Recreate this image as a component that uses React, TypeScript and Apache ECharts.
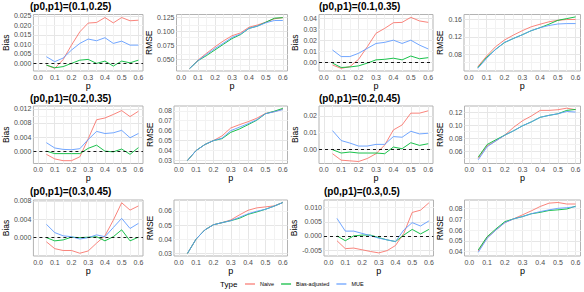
import React, { useEffect, useRef } from "react";
import * as echarts from "echarts";

const FONT = "'Liberation Sans', Arial, Helvetica, sans-serif";

// x values (p)
const P = [0.05, 0.1, 0.15, 0.2, 0.25, 0.3, 0.35, 0.4, 0.45, 0.5, 0.55, 0.6];
const X_TICKS = [0.0, 0.1, 0.2, 0.3, 0.4, 0.5, 0.6];
const X_MINOR = [0.05, 0.15, 0.25, 0.35, 0.45, 0.55];

const SERIES_NAMES = ["Naive", "Bias-adjusted", "MUE"];
const COLORS = ["#F8766D", "#00BA38", "#619CFF"];

// (p0,p1)=(0.1,0.25)
const biasNaive1 = [-0.0009, -0.0026, 0.002, 0.0096, 0.0166, 0.0212, 0.0215, 0.0241, 0.0213, 0.0241, 0.0224, 0.0227];
const biasAdj1 = [-0.0009, -0.0023, -0.0017, 0.0, 0.0017, 0.0021, 0.0, 0.0012, -0.0014, 0.0012, 0.0003, 0.0017];
const biasMue1 = [0.0035, 0.0009, 0.0028, 0.007, 0.0105, 0.0128, 0.0119, 0.0135, 0.0105, 0.0117, 0.0096, 0.0096];
const rmseNaive1 = [0.034, 0.049, 0.061, 0.0725, 0.083, 0.092, 0.097, 0.107, 0.111, 0.116, 0.122, 0.124];
const rmseAdj1 = [0.034, 0.048, 0.057, 0.067, 0.077, 0.087, 0.094, 0.105, 0.109, 0.116, 0.123, 0.124];
const rmseMue1 = [0.034, 0.048, 0.059, 0.0695, 0.079, 0.089, 0.095, 0.105, 0.109, 0.115, 0.119, 0.119];

// (p0,p1)=(0.1,0.35)
const biasNaive2 = [-0.0027, -0.0058, -0.0042, 0.0025, 0.014, 0.0263, 0.0308, 0.036, 0.0363, 0.0409, 0.0376, 0.0363];
const biasAdj2 = [-0.001, -0.005, -0.0045, -0.0035, -0.001, 0.002, 0.0025, 0.0035, 0.002, 0.0055, 0.003, 0.004];
const biasMue2 = [0.011, 0.005, 0.005, 0.008, 0.0125, 0.017, 0.018, 0.02, 0.017, 0.02, 0.0155, 0.012];
const rmseNaive2 = [0.0508, 0.0755, 0.097, 0.1125, 0.1238, 0.134, 0.143, 0.149, 0.1546, 0.158, 0.16, 0.16];
const rmseAdj2 = [0.0485, 0.0723, 0.0908, 0.1065, 0.116, 0.1246, 0.134, 0.141, 0.149, 0.158, 0.162, 0.166];
const rmseMue2 = [0.047, 0.07, 0.0908, 0.107, 0.116, 0.1246, 0.134, 0.141, 0.146, 0.1495, 0.1505, 0.1505];

// (p0,p1)=(0.2,0.35)
const biasNaive3 = [-0.0009, -0.0022, -0.0027, -0.0027, -0.0016, 0.0035, 0.0089, 0.0094, 0.0104, 0.0115, 0.0098, 0.0113];
const biasAdj3 = [0.0, -0.0007, -0.0007, -0.0007, -0.0007, 0.0008, 0.0017, 0.0, -0.0002, 0.0006, -0.0009, 0.001];
const biasMue3 = [0.0024, 0.0009, 0.0005, 0.0004, 0.0007, 0.0033, 0.0056, 0.005, 0.0052, 0.0059, 0.0038, 0.005];
const rmseNaive3 = [0.03, 0.04, 0.046, 0.05, 0.0548, 0.0627, 0.066, 0.069, 0.0725, 0.0773, 0.079, 0.0817];
const rmseAdj3 = [0.03, 0.04, 0.046, 0.05, 0.052, 0.0583, 0.0617, 0.066, 0.0705, 0.077, 0.0795, 0.0824];
const rmseMue3 = [0.03, 0.04, 0.046, 0.05, 0.0525, 0.06, 0.0635, 0.067, 0.071, 0.077, 0.079, 0.0812];

// (p0,p1)=(0.2,0.45)
const biasNaive4 = [-0.0028, -0.0067, -0.0071, -0.0075, -0.0057, -0.0028, 0.0024, 0.0115, 0.0145, 0.0216, 0.0216, 0.023];
const biasAdj4 = [-0.0004, -0.0024, -0.0018, -0.0024, -0.0024, -0.0024, -0.0028, 0.0012, 0.0002, 0.0038, 0.0022, 0.0032];
const biasMue4 = [0.0111, 0.0051, 0.0036, 0.0018, 0.0018, 0.0028, 0.0028, 0.0075, 0.0071, 0.0107, 0.0091, 0.0095];
const rmseNaive4 = [0.0493, 0.0683, 0.076, 0.0847, 0.0967, 0.1067, 0.114, 0.1226, 0.1226, 0.1236, 0.126, 0.1236];
const rmseAdj4 = [0.051, 0.0703, 0.0777, 0.0847, 0.0914, 0.099, 0.105, 0.112, 0.115, 0.1174, 0.1226, 0.124];
const rmseMue4 = [0.047, 0.0668, 0.076, 0.0847, 0.0914, 0.099, 0.105, 0.112, 0.115, 0.1174, 0.121, 0.12];

// (p0,p1)=(0.3,0.45)
const biasNaive5 = [-0.0009, -0.0024, -0.0028, -0.0028, -0.0034, -0.0029, -0.0012, 0.0004, 0.0038, 0.0076, 0.006, 0.0069];
const biasAdj5 = [0.0, -0.0007, -0.0005, 0.0001, 0.0, 0.0001, 0.0002, -0.0007, 0.0002, 0.0017, -0.0007, 0.0001];
const biasMue5 = [0.0029, 0.0011, 0.0004, 0.0002, -0.0003, 0.0, 0.0006, 0.0002, 0.0022, 0.0042, 0.002, 0.0031];
const rmseNaive5 = [0.0298, 0.04, 0.0465, 0.0502, 0.0517, 0.0536, 0.0572, 0.0605, 0.0622, 0.0629, 0.0636, 0.066];
const rmseAdj5 = [0.0298, 0.04, 0.0465, 0.0502, 0.0517, 0.0531, 0.0548, 0.0576, 0.0593, 0.0612, 0.0634, 0.066];
const rmseMue5 = [0.0298, 0.04, 0.0465, 0.0502, 0.0517, 0.0531, 0.0555, 0.058, 0.0598, 0.0612, 0.0634, 0.066];

// (p0,p1)=(0.3,0.5)
const biasNaive6 = [-0.0017, -0.0045, -0.0043, -0.0049, -0.0055, -0.006, -0.0052, -0.0034, 0.0009, 0.0083, 0.0091, 0.0117];
const biasAdj6 = [0.0, -0.0017, 0.0, 0.0003, 0.0003, -0.0006, -0.0014, -0.002, 0.0003, 0.0023, 0.0007, 0.0023];
const biasMue6 = [0.0062, 0.0017, 0.0017, 0.0009, 0.0001, -0.0008, -0.0014, -0.002, 0.0021, 0.0047, 0.0035, 0.0053];
const rmseNaive6 = [0.0406, 0.053, 0.06, 0.0668, 0.0703, 0.074, 0.0777, 0.0817, 0.0848, 0.0854, 0.084, 0.084];
const rmseAdj6 = [0.0415, 0.0538, 0.061, 0.0677, 0.0703, 0.0724, 0.075, 0.0763, 0.078, 0.0786, 0.0794, 0.082];
const rmseMue6 = [0.0394, 0.0523, 0.06, 0.0668, 0.0703, 0.0724, 0.075, 0.077, 0.0786, 0.08, 0.0806, 0.0815];

// y tick labels per panel
const yTicksBias1 = [0.0, 0.005, 0.01, 0.015, 0.02, 0.025];
const yTicksRmse1 = [0.05, 0.075, 0.1, 0.125];
const yTicksBias2 = [0.0, 0.01, 0.02, 0.03, 0.04];
const yTicksRmse2 = [0.08, 0.12, 0.16];
const yTicksBias3 = [0.0, 0.004, 0.008, 0.012];
const yTicksRmse3 = [0.03, 0.04, 0.05, 0.06, 0.07, 0.08];
const yTicksBias4 = [0.0, 0.01, 0.02];
const yTicksRmse4 = [0.06, 0.08, 0.1, 0.12];
const yTicksBias5 = [0.0, 0.004, 0.008];
const yTicksRmse5 = [0.03, 0.04, 0.05, 0.06];
const yTicksBias6 = [-0.005, 0.0, 0.005, 0.01];
const yTicksRmse6 = [0.04, 0.05, 0.06, 0.07, 0.08];

type Panel = {
  title?: string;
  metric: "Bias" | "RMSE";
  lines: number[][];
  yMin: number;
  yMax: number;
  yTicks: number[];
  dec: number;
  left: number;
  top: number;
  width: number;
  height: number;
  titleTop: number;
  nameGap: number;
};

const R1 = { top: 14.5, height: 56.5, titleTop: 1.5 };
const R2 = { top: 106, height: 57.5, titleTop: 93 };
const R3 = { top: 200, height: 56, titleTop: 186.5 };

const panels: Panel[] = [
  { title: "(p0,p1)=(0.1,0.25)", metric: "Bias", lines: [biasNaive1, biasAdj1, biasMue1], yMin: -0.004, yMax: 0.0257, yTicks: yTicksBias1, dec: 3, left: 30, width: 113, ...R1, nameGap: 20 },
  { metric: "RMSE", lines: [rmseNaive1, rmseAdj1, rmseMue1], yMin: 0.0296, yMax: 0.1296, yTicks: yTicksRmse1, dec: 3, left: 176.5, width: 111, ...R1, nameGap: 19.5 },
  { title: "(p0,p1)=(0.1,0.35)", metric: "Bias", lines: [biasNaive2, biasAdj2, biasMue2], yMin: -0.0082, yMax: 0.0435, yTicks: yTicksBias2, dec: 2, left: 319, width: 114, ...R1, nameGap: 15.5 },
  { metric: "RMSE", lines: [rmseNaive2, rmseAdj2, rmseMue2], yMin: 0.0408, yMax: 0.1715, yTicks: yTicksRmse2, dec: 2, left: 464, width: 116.5, ...R1, nameGap: 15.5 },

  { title: "(p0,p1)=(0.2,0.35)", metric: "Bias", lines: [biasNaive3, biasAdj3, biasMue3], yMin: -0.0035, yMax: 0.0128, yTicks: yTicksBias3, dec: 3, left: 30, width: 113, ...R2, nameGap: 20 },
  { metric: "RMSE", lines: [rmseNaive3, rmseAdj3, rmseMue3], yMin: 0.027, yMax: 0.0848, yTicks: yTicksRmse3, dec: 2, left: 174, width: 113.5, ...R2, nameGap: 18 },
  { title: "(p0,p1)=(0.2,0.45)", metric: "Bias", lines: [biasNaive4, biasAdj4, biasMue4], yMin: -0.0087, yMax: 0.0259, yTicks: yTicksBias4, dec: 2, left: 319, width: 114, ...R2, nameGap: 16 },
  { metric: "RMSE", lines: [rmseNaive4, rmseAdj4, rmseMue4], yMin: 0.0413, yMax: 0.1293, yTicks: yTicksRmse4, dec: 2, left: 464.5, width: 116, ...R2, nameGap: 15.5 },

  { title: "(p0,p1)=(0.3,0.45)", metric: "Bias", lines: [biasNaive5, biasAdj5, biasMue5], yMin: -0.004, yMax: 0.0082, yTicks: yTicksBias5, dec: 3, left: 30, width: 113, ...R3, nameGap: 20 },
  { metric: "RMSE", lines: [rmseNaive5, rmseAdj5, rmseMue5], yMin: 0.028, yMax: 0.0678, yTicks: yTicksRmse5, dec: 2, left: 174, width: 113.5, ...R3, nameGap: 18 },
  { title: "(p0,p1)=(0.3,0.5)", metric: "Bias", lines: [biasNaive6, biasAdj6, biasMue6], yMin: -0.0071, yMax: 0.0127, yTicks: yTicksBias6, dec: 3, left: 324, width: 109.5, ...R3, nameGap: 20.5 },
  { metric: "RMSE", lines: [rmseNaive6, rmseAdj6, rmseMue6], yMin: 0.036, yMax: 0.0877, yTicks: yTicksRmse6, dec: 2, left: 464.5, width: 116, ...R3, nameGap: 15.5 },
];

function minorOf(ticks: number[], lo: number, hi: number): number[] {
  if (ticks.length < 2) return [];
  const step = ticks[1] - ticks[0];
  const out: number[] = [];
  out.push(ticks[0] - step / 2);
  for (let i = 0; i < ticks.length; i++) out.push(ticks[i] + step / 2);
  return out.filter((v) => v > lo && v < hi);
}

function buildOption() {
  const grid: any[] = [];
  const xAxis: any[] = [];
  const yAxis: any[] = [];
  const series: any[] = [];
  const title: any[] = [];

  panels.forEach((p, i) => {
    grid.push({
      left: p.left,
      top: p.top,
      width: p.width,
      height: p.height,
      show: true,
      backgroundColor: "#FFFFFF",
      borderColor: "#B3B3B3",
      borderWidth: 1,
      containLabel: false,
    });
    xAxis.push({
      type: "value",
      gridIndex: i,
      min: -0.0275,
      max: 0.6275,
      axisLine: { show: false },
      axisTick: { show: false, customValues: X_TICKS },
      axisLabel: {
        customValues: X_TICKS,
        formatter: (v: number) => v.toFixed(1),
        fontSize: 7,
        color: "#4D4D4D",
        margin: 2.5,
        fontFamily: FONT,
      },
      splitLine: { show: true, lineStyle: { color: "#E6E6E6", width: 1 } },
      name: "p",
      nameLocation: "middle",
      nameGap: 8,
      nameTextStyle: { fontSize: 9, color: "#000000", fontFamily: FONT },
    });
    yAxis.push({
      type: "value",
      gridIndex: i,
      min: p.yMin,
      max: p.yMax,
      axisLine: { show: false },
      axisTick: { show: false, customValues: p.yTicks },
      axisLabel: {
        customValues: p.yTicks,
        formatter: (v: number) => v.toFixed(p.dec),
        fontSize: 7,
        color: "#4D4D4D",
        margin: 2,
        fontFamily: FONT,
      },
      splitLine: { show: true, lineStyle: { color: "#E6E6E6", width: 1 } },
      name: p.metric,
      nameLocation: "middle",
      nameGap: p.nameGap,
      nameTextStyle: { fontSize: 8.5, color: "#000000", fontFamily: FONT },
    });
    if (p.title) {
      title.push({
        text: p.title,
        left: p.left,
        top: p.titleTop,
        padding: 0,
        textStyle: { fontSize: 10, fontWeight: "bold", color: "#000000", fontFamily: FONT },
      });
    }
    const yMinor = minorOf(p.yTicks, p.yMin, p.yMax);
    p.lines.forEach((vals, k) => {
      const s: any = {
        type: "line",
        name: SERIES_NAMES[k],
        xAxisIndex: i,
        yAxisIndex: i,
        data: P.map((x, j) => [x, vals[j]]),
        showSymbol: false,
        symbol: "none",
        color: COLORS[k],
        lineStyle: { color: COLORS[k], width: 0.9 },
        z: 2,
      };
      if (k === 0) {
        s.markLine = {
          silent: true,
          symbol: "none",
          z: 1,
          label: { show: false },
          lineStyle: { color: "#F2F2F2", width: 1, type: "solid" },
          data: [
            ...X_MINOR.map((v) => ({ xAxis: v })),
            ...yMinor.map((v) => ({ yAxis: v })),
          ],
        };
      }
      if (k === 2 && p.metric === "Bias") {
        s.markLine = {
          silent: true,
          symbol: "none",
          z: 5,
          label: { show: false },
          lineStyle: { color: "#000000", width: 0.9, type: [3, 3] },
          data: [{ yAxis: 0 }],
        };
      }
      series.push(s);
    });
  });

  return {
    animation: false,
    backgroundColor: "#FFFFFF",
    textStyle: { fontFamily: FONT },
    title,
    grid,
    xAxis,
    yAxis,
    series,
    legend: {
      data: SERIES_NAMES,
      left: 245,
      top: 281,
      padding: 0,
      icon: "rect",
      itemWidth: 10,
      itemHeight: 1.2,
      itemGap: 7,
      selectedMode: false,
      textStyle: { fontSize: 5.5, color: "#000000", fontFamily: FONT },
    },
    graphic: [
      {
        type: "text",
        left: 220,
        top: 280,
        style: { text: "Type", fontSize: 8, fill: "#000000", fontFamily: FONT },
      },
    ],
  };
}

export default function App() {
  const ref = useRef<HTMLDivElement>(null);
  useEffect(() => {
    if (!ref.current) return;
    const chart = echarts.init(ref.current, undefined, { renderer: "svg" });
    chart.setOption(buildOption() as any);
    return () => chart.dispose();
  }, []);
  return (
    <div
      ref={ref}
      style={{ position: "fixed", left: 0, top: 0, width: 584, height: 292, background: "#fff" }}
    />
  );
}
